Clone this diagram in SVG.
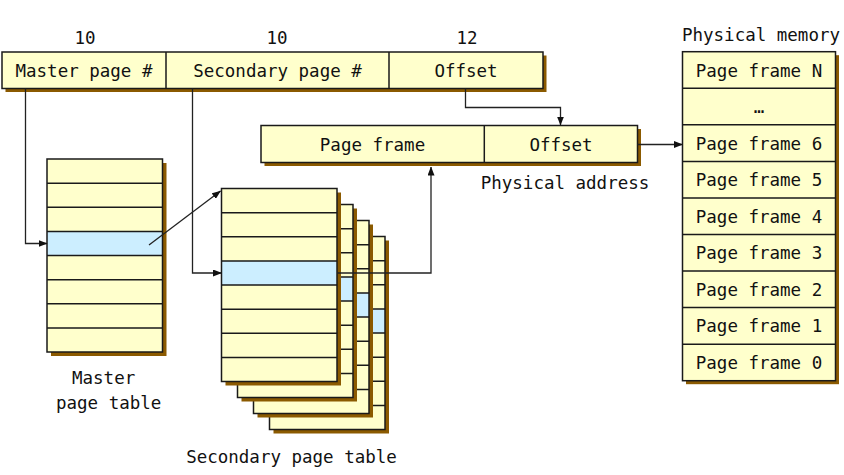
<svg xmlns="http://www.w3.org/2000/svg" xmlns:xlink="http://www.w3.org/1999/xlink" width="844" height="475" viewBox="0 0 844 475">
<style>
.bg{fill:#ffffff}
.box{fill:#FFFFCC;stroke:none}
.hl{fill:#CCEEFF;stroke:none}
.sh{fill:#8B5A00;stroke:none}
.out{fill:none;stroke:#1a1a1a;stroke-width:1.5}
.div{stroke:#1a1a1a;stroke-width:1.5;fill:none}
.t{font-family:"DejaVu Sans Mono","Liberation Mono",monospace;font-size:17.5px;fill:#111;text-anchor:middle}
.tl{font-family:"DejaVu Sans Mono","Liberation Mono",monospace;font-size:17.5px;fill:#111}
.con{fill:none;stroke:#222;stroke-width:1.3}
.arr{marker-end:url(#ah)}
</style>
<defs>
<marker id="ah" markerUnits="userSpaceOnUse" markerWidth="9" markerHeight="7" refX="8.5" refY="3.5" orient="auto">
<path d="M0,0 L9,3.5 L0,7 z" fill="#111"/>
</marker>
<g id="tbl">
<rect class="sh" x="4" y="4" width="115.5" height="193"/>
<rect class="box" x="0" y="0" width="115.5" height="193"/>
<rect class="hl" x="0" y="72.375" width="115.5" height="24.125"/>
<path class="div" d="M0,24.125H115.5M0,48.25H115.5M0,72.375H115.5M0,96.5H115.5M0,120.625H115.5M0,144.75H115.5M0,168.875H115.5"/>
<rect class="out" x="0" y="0" width="115.5" height="193"/>
</g>
</defs>
<rect class="bg" x="0" y="0" width="844" height="475"/>

<g id="virtual-address">
<text class="t" x="85" y="44">10</text>
<text class="t" x="277" y="44">10</text>
<text class="t" x="467" y="44">12</text>
<rect class="sh" x="5.5" y="55.5" width="541" height="36.5"/>
<rect class="box" x="2" y="52" width="541" height="36.5"/>
<rect class="out" x="2" y="52" width="541" height="36.5"/>
<path class="div" d="M166,52V88.5M389,52V88.5"/>
<text class="t" x="84" y="76.8">Master page #</text>
<text class="t" x="277.5" y="76.8">Secondary page #</text>
<text class="t" x="466" y="76.8">Offset</text>
</g>

<g id="physical-address">
<rect class="sh" x="264.5" y="129" width="376.5" height="37"/>
<rect class="box" x="261" y="125.5" width="376.5" height="37"/>
<rect class="out" x="261" y="125.5" width="376.5" height="37"/>
<path class="div" d="M484.3,125.5V162.5"/>
<text class="t" x="372.5" y="150.5">Page frame</text>
<text class="t" x="561" y="150.5">Offset</text>
<text class="t" x="565" y="188.5">Physical address</text>
</g>

<g id="master-page-table">
<use xlink:href="#tbl" x="47" y="159"/>
<text class="tl" x="72" y="383.5">Master</text>
<text class="tl" x="56" y="409">page table</text>
</g>

<g id="secondary-page-table">
<use xlink:href="#tbl" x="269.5" y="236.5"/>
<use xlink:href="#tbl" x="253.5" y="220.5"/>
<use xlink:href="#tbl" x="237.5" y="204.5"/>
<use xlink:href="#tbl" x="221.5" y="188.5"/>
<text class="t" x="291.5" y="463">Secondary page table</text>
</g>

<g id="physical-memory">
<text class="t" x="761" y="41">Physical memory</text>
<rect class="sh" x="686" y="55.2" width="153" height="329"/>
<rect class="box" x="682.5" y="51.7" width="153" height="329"/>
<path class="div" d="M682.5,88.26H835.5M682.5,124.82H835.5M682.5,161.38H835.5M682.5,197.94H835.5M682.5,234.5H835.5M682.5,271.06H835.5M682.5,307.62H835.5M682.5,344.18H835.5"/>
<rect class="out" x="682.5" y="51.7" width="153" height="329"/>
<text class="t" x="759" y="76.5">Page frame N</text>
<text class="t" x="759" y="113">…</text>
<text class="t" x="759" y="149.6">Page frame 6</text>
<text class="t" x="759" y="186.2">Page frame 5</text>
<text class="t" x="759" y="222.7">Page frame 4</text>
<text class="t" x="759" y="259.3">Page frame 3</text>
<text class="t" x="759" y="295.8">Page frame 2</text>
<text class="t" x="759" y="332.4">Page frame 1</text>
<text class="t" x="759" y="369">Page frame 0</text>
</g>

<g id="connectors">
<path class="con arr" d="M25.5,88.5V243.5H47"/>
<path class="con arr" d="M192.5,88.5V273H221.5"/>
<path class="con arr" d="M465.5,88.5V107.5H560.5V125"/>
<path class="con arr" d="M149,245L220.5,191"/>
<path class="con arr" d="M337.5,273H431V167"/>
<path class="con arr" d="M637.5,144.5H682.5"/>
</g>
</svg>
